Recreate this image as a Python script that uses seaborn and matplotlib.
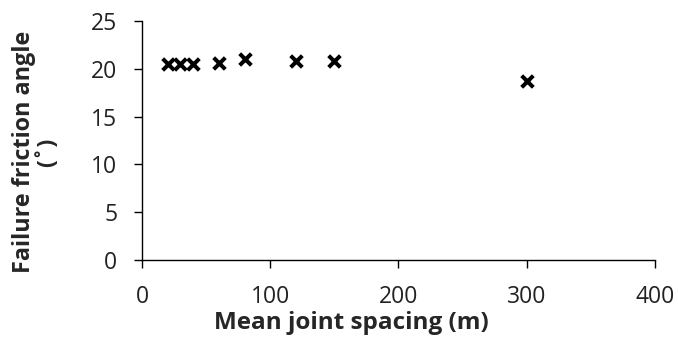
import matplotlib
matplotlib.use("Agg")
import matplotlib.pyplot as plt
import seaborn as sns
import pandas as pd

# Mean joint spacing (m) and the friction angle at failure (degrees)
spacing = [20, 30, 40, 60, 80, 120, 150, 300]
friction_angle = [20.5, 20.5, 20.5, 20.6, 21.0, 20.8, 20.8, 18.7]
x_ticks = [0, 100, 200, 300, 400]
y_ticks = [0, 5, 10, 15, 20, 25]

df = pd.DataFrame({"spacing": spacing, "angle": friction_angle})

sns.set_theme(style="white")
plt.rcParams["font.family"] = ["Open Sans", "DejaVu Sans"]

fig = plt.figure(figsize=(6.78, 3.47), dpi=100)
ax = fig.add_axes([142 / 678, 1 - 260 / 347, (655 - 142) / 678, (260 - 21) / 347])

sns.scatterplot(data=df, x="spacing", y="angle", marker="x", s=70,
                color="black", linewidth=2.9, ax=ax, zorder=3)

ax.set_xlim(0, 400)
ax.set_ylim(0, 25)
ax.set_xticks(x_ticks)
ax.set_yticks(y_ticks)
ax.tick_params(axis="both", direction="out", length=5.8, width=1, color="black",
               labelsize=16.5, labelcolor="#222222", bottom=True, left=True, pad=12)

for side in ("top", "right"):
    ax.spines[side].set_visible(False)
for side in ("left", "bottom"):
    ax.spines[side].set_color("black")
    ax.spines[side].set_linewidth(1)

ax.set_xlabel("Mean joint spacing (m)", fontsize=17.5, fontweight="bold")
ax.set_ylabel("Failure friction angle\n(˚)", fontsize=16.8, fontweight="bold",
              linespacing=1.05)
ax.xaxis.set_label_coords(0.408, -0.264)
ax.xaxis.label.set_va("center")
ax.yaxis.set_label_coords(-0.2066, 0.452)
ax.yaxis.label.set_va("center")

fig.savefig("out.png", dpi=100)
